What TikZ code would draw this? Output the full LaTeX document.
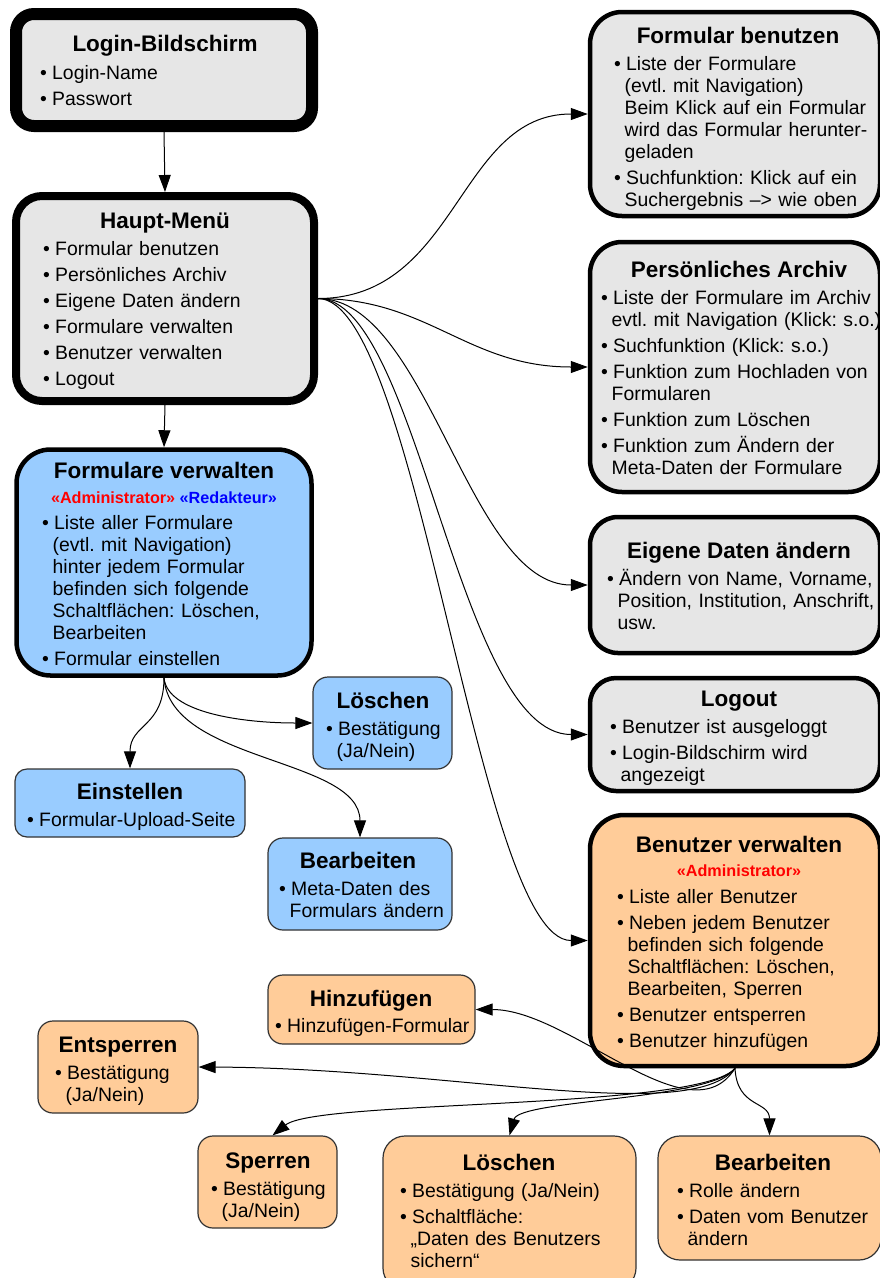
\documentclass[tikz,border=0pt]{standalone}
\usepackage{fontspec}
\setmainfont{Liberation Sans}
\usetikzlibrary{arrows.meta}
\definecolor{boxgray}{HTML}{E6E6E6}
\definecolor{boxblue}{HTML}{99CCFF}
\definecolor{boxorange}{HTML}{FFCC99}
\definecolor{thinline}{HTML}{333333}
\definecolor{stred}{HTML}{FF0000}
\definecolor{stblue}{HTML}{0000FF}
\newlength\bulw \setlength\bulw{12pt}
\newcommand\bodyfont{\fontsize{19.4pt}{22pt}\selectfont}
\newcommand\itm{\par\hangindent=10.5pt\hangafter=1\noindent\makebox[\bulw][l]{\textbullet}}
\newcommand\firstln{\rule{0pt}{20pt}}
\newcommand\bodyset{\frenchspacing\setlength\parskip{4pt}\setlength\parindent{0pt}}
\newcommand\closepar{\par}
\begin{document}
\begin{tikzpicture}[x=1pt,y=-1pt,
  boxbase/.style={draw=black, inner sep=0pt},
  gbox/.style={boxbase, fill=boxgray, line width=4.5pt, rounded corners=32pt},
  bbig/.style={boxbase, fill=boxblue, line width=4.5pt, rounded corners=34pt},
  obig/.style={boxbase, fill=boxorange, line width=4.5pt, rounded corners=34pt},
  bthin/.style={boxbase, draw=thinline, fill=boxblue, line width=1.2pt, rounded corners=15pt},
  othin/.style={boxbase, draw=thinline, fill=boxorange, line width=1.2pt, rounded corners=15pt},
  ttl/.style={anchor=base, inner sep=0pt, font=\fontsize{22.5pt}{26pt}\selectfont\bfseries},
  stereo/.style={anchor=base, inner sep=0pt, font=\fontsize{16.2pt}{18pt}\selectfont\bfseries},
  bdy/.style={anchor=north west, inner sep=0pt, text width=400pt, font=\bodyfont, execute at begin node=\bodyset},
  conn/.style={draw=black, line width=1pt, -{Triangle[length=17pt,width=12pt]}}
]
\fill[white] (0,0) rectangle (880,1278);
\useasboundingbox (0,0) rectangle (880,1278);

% ---------- boxes ----------
\node[gbox, line width=12pt, rounded corners=18pt, minimum width=296pt, minimum height=112pt] (login) at (164,70) {};
\node[gbox, line width=8pt, rounded corners=26pt, minimum width=298pt, minimum height=205pt] (haupt) at (165,298.5) {};
\node[bbig, minimum width=295pt, minimum height=226pt] (fv) at (164,562.5) {};
\node[bthin, minimum width=139pt, minimum height=92pt] (bl) at (382.5,723) {};
\node[bthin, rounded corners=12pt, minimum width=230pt, minimum height=68pt] (ein) at (130,803) {};
\node[bthin, minimum width=184pt, minimum height=92pt] (bb) at (360,884) {};

\node[gbox, minimum width=290pt, minimum height=204pt] (fb) at (735,114) {};
\node[gbox, minimum width=290pt, minimum height=250pt] (pa) at (735,367) {};
\node[gbox, rounded corners=28pt, minimum width=290pt, minimum height=136pt] (ed) at (735,585) {};
\node[gbox, rounded corners=26pt, minimum width=290pt, minimum height=113pt] (lo) at (735,734.5) {};
\node[obig, minimum width=290pt, minimum height=251pt] (bv) at (735,940.5) {};

\node[othin, minimum width=207pt, minimum height=69pt] (hz) at (371.5,1009.5) {};
\node[othin, minimum width=160pt, minimum height=92pt] (es) at (118,1067) {};
\node[othin, minimum width=139pt, minimum height=92pt] (sp) at (267.5,1182) {};
\node[othin, rounded corners=22pt, minimum width=253pt, minimum height=154pt] (lo2) at (509.5,1213) {};
\node[othin, rounded corners=22pt, minimum width=223pt, minimum height=124pt] (be2) at (769.5,1198) {};

% ---------- texts ----------
\node[ttl] (t-login) at (165,51) {Login-Bildschirm};
\node[bdy] (b-login) at (40,53) {\itm\firstln Login-Name\itm Passwort\closepar};

\node[ttl] (t-haupt) at (165,228) {Haupt-Menü};
\node[bdy] (b-haupt) at (43,229) {\itm\firstln Formular benutzen\itm Persönliches Archiv\itm Eigene Daten ändern\itm Formulare verwalten\itm Benutzer verwalten\itm Logout\closepar};

\node[ttl] (t-fv) at (164,478) {Formulare verwalten};
\node[stereo] (s-fv) at (164,503) {\textcolor{stred}{«Administrator»} \textcolor{stblue}{«Redakteur»}};
\node[bdy] (b-fv) at (42,503) {\itm\firstln Liste aller Formulare\newline (evtl. mit Navigation)\newline hinter jedem Formular\newline befinden sich folgende\newline Schaltflächen: Löschen,\newline Bearbeiten\itm Formular einstellen\closepar};

\node[ttl] (t-bl) at (383,708) {Löschen};
\node[bdy] (b-bl) at (326,709) {\itm\firstln Bestätigung\newline (Ja/Nein)\closepar};

\node[ttl] (t-ein) at (130,799) {Einstellen};
\node[bdy] (b-ein) at (27,800) {\itm\firstln Formular-Upload-Seite\closepar};

\node[ttl] (t-bb) at (358,868) {Bearbeiten};
\node[bdy] (b-bb) at (279,869) {\itm\firstln Meta-Daten des\newline Formulars ändern\closepar};

\node[ttl] (t-fb) at (738,43) {Formular benutzen};
\node[bdy] (b-fb) at (614,44) {\itm\firstln Liste der Formulare\newline (evtl. mit Navigation)\newline Beim Klick auf ein Formular\newline wird das Formular herunter-\newline geladen\itm Suchfunktion: Klick auf ein\newline Suchergebnis –> wie oben\closepar};

\node[ttl] (t-pa) at (739,277) {Persönliches Archiv};
\node[bdy] (b-pa) at (601,278) {\itm\firstln Liste der Formulare im Archiv\newline evtl. mit Navigation (Klick: s.o.)\itm Suchfunktion (Klick: s.o.)\itm Funktion zum Hochladen von\newline Formularen\itm Funktion zum Löschen\itm Funktion zum Ändern der\newline Meta-Daten der Formulare\closepar};

\node[ttl] (t-ed) at (739,558) {Eigene Daten ändern};
\node[bdy] (b-ed) at (607,559) {\itm\firstln Ändern von Name, Vorname,\newline Position, Institution, Anschrift,\newline usw.\closepar};

\node[ttl] (t-lo) at (739,706) {Logout};
\node[bdy] (b-lo) at (610,707) {\itm\firstln Benutzer ist ausgeloggt\itm Login-Bildschirm wird\newline angezeigt\closepar};

\node[ttl] (t-bv) at (739,852) {Benutzer verwalten};
\node[stereo, text=stred] (s-bv) at (739,876) {«Administrator»};
\node[bdy] (b-bv) at (617,877) {\itm\firstln Liste aller Benutzer\itm Neben jedem Benutzer\newline befinden sich folgende\newline Schaltflächen: Löschen,\newline Bearbeiten, Sperren\itm Benutzer entsperren\itm Benutzer hinzufügen\closepar};

\node[ttl] (t-hz) at (371,1006) {Hinzufügen};
\node[bdy] (b-hz) at (275,1006) {\itm\firstln Hinzufügen-Formular\closepar};

\node[ttl] (t-es) at (118,1052) {Entsperren};
\node[bdy] (b-es) at (55,1053) {\itm\firstln Bestätigung\newline (Ja/Nein)\closepar};

\node[ttl] (t-sp) at (268,1168) {Sperren};
\node[bdy] (b-sp) at (211,1169) {\itm\firstln Bestätigung\newline (Ja/Nein)\closepar};

\node[ttl] (t-lo2) at (509,1170) {Löschen};
\node[bdy] (b-lo2) at (400,1171) {\itm\firstln Bestätigung (Ja/Nein)\itm Schaltfläche:\newline „Daten des Benutzers\newline sichern“\closepar};

\node[ttl] (t-be2) at (773,1170) {Bearbeiten};
\node[bdy] (b-be2) at (677,1171) {\itm\firstln Rolle ändern\itm Daten vom Benutzer\newline ändern\closepar};

% ---------- connectors ----------
\draw[conn] (login.south) -- (haupt.north);
\draw[conn] (haupt.south) -- (fv.north);

\draw[conn] (haupt.east) .. controls +(140,0) and +(-130,0) .. (fb.west);
\draw[conn] (haupt.east) .. controls +(110,0) and +(-120,0) .. (pa.west);
\draw[conn] (haupt.east) .. controls +(110,0) and +(-120,0) .. (ed.west);
\draw[conn] (haupt.east) .. controls +(100,0) and +(-130,0) .. (lo.west);
\draw[conn] (haupt.east) .. controls +(100,0) and +(-110,0) .. (bv.west);

\draw[conn] (fv.south) .. controls +(0,50) and +(0,-45) .. (ein.north);
\draw[conn] (fv.south) .. controls +(3,35) and +(-70,0) .. (bl.west);
\draw[conn] (fv.south) .. controls +(6,85) and +(0,-80) .. (bb.north);

\draw[conn] (bv.south) .. controls +(-45,72) and +(95,0) .. (hz.east);
\draw[conn] (bv.south) .. controls +(-45,57) and +(252,1) .. (es.east);
\draw[conn] (bv.south) .. controls +(-35,42) and +(45,-36) .. ([xshift=5pt]sp.north);
\draw[conn] (bv.south) .. controls +(-25,32) and +(10,-36) .. (lo2.north);
\draw[conn] (bv.south) .. controls +(2,40) and +(0,-35) .. (be2.north);
\end{tikzpicture}
\end{document}
